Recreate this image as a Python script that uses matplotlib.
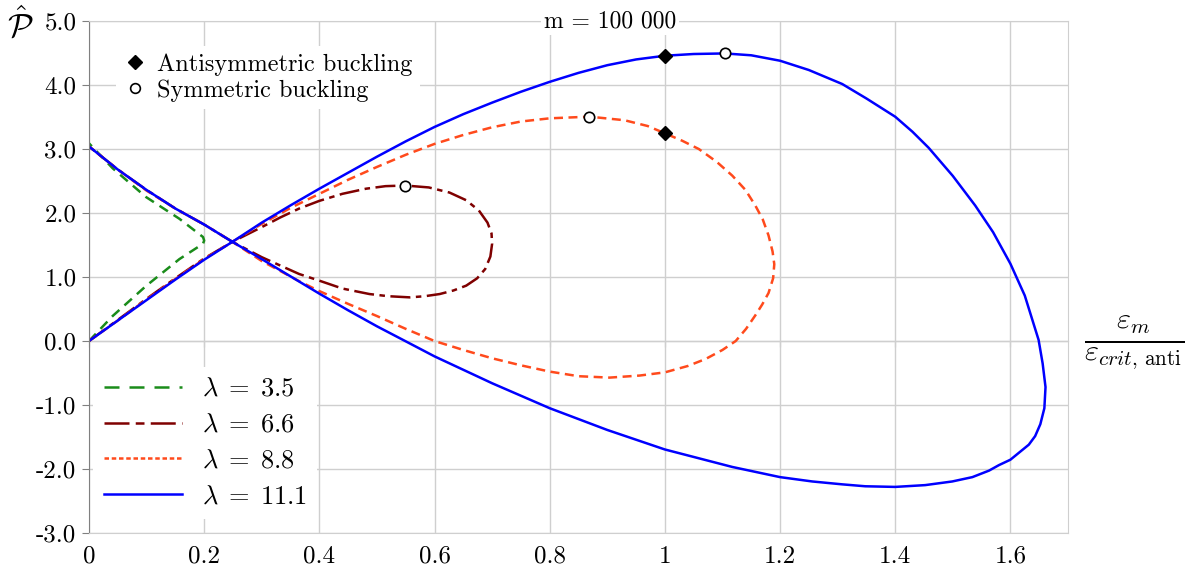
import matplotlib
matplotlib.use("Agg")
import matplotlib.pyplot as plt
from matplotlib.lines import Line2D

plt.rcParams['font.family'] = ['cmr10', 'DejaVu Serif']
plt.rcParams['mathtext.fontset'] = 'cm'
plt.rcParams['axes.unicode_minus'] = False
plt.rcParams['axes.formatter.use_mathtext'] = True

# curvas: cada una sale de (0,0), da la vuelta y vuelve a (0, ~3.05)
x_35 = [0, 0.041, 0.099, 0.157, 0.198, 0.2, 0.198, 0.157, 0.099, 0.041, 0]
y_35 = [0, 0.39, 0.86, 1.28, 1.52, 1.57, 1.625, 1.91, 2.25, 2.70, 3.09]

x_66 = [0, 0.05, 0.1, 0.15, 0.2, 0.249, 0.3, 0.332, 0.365, 0.4, 0.44, 0.481, 0.515,
        0.549, 0.59, 0.626, 0.655, 0.677, 0.692, 0.699, 0.7, 0.697, 0.688, 0.674,
        0.655, 0.633, 0.609, 0.583, 0.557, 0.52, 0.487, 0.44, 0.4, 0.365, 0.332,
        0.3, 0.249, 0.2, 0.15, 0.1, 0.05, 0]
y_66 = [0, 0.33, 0.66, 0.98, 1.29, 1.55, 1.78, 1.93, 2.07, 2.19, 2.30, 2.38, 2.42,
        2.43, 2.40, 2.32, 2.20, 2.04, 1.85, 1.68, 1.52, 1.32, 1.125, 0.98,
        0.865, 0.79, 0.734, 0.70, 0.682, 0.70, 0.734, 0.82, 0.943, 1.047, 1.18,
        1.31, 1.55, 1.82, 2.07, 2.36, 2.68, 3.04]

x_88 = [0, 0.05, 0.1, 0.15, 0.2, 0.249, 0.3, 0.35, 0.4, 0.45, 0.5, 0.55, 0.6, 0.65,
        0.7, 0.75, 0.8, 0.869, 0.93, 0.97, 1.0, 1.03, 1.059, 1.09, 1.117, 1.14,
        1.157, 1.17, 1.18, 1.187, 1.19, 1.188, 1.18, 1.169, 1.157, 1.141, 1.123,
        1.1, 1.071, 1.04, 1.0, 0.956, 0.904, 0.85, 0.8, 0.75, 0.7, 0.65, 0.6,
        0.55, 0.5, 0.45, 0.4, 0.366, 0.3, 0.249, 0.2, 0.15, 0.1, 0.05, 0]
y_88 = [0, 0.32, 0.65, 0.97, 1.28, 1.55, 1.83, 2.08, 2.30, 2.52, 2.72, 2.91, 3.08,
        3.22, 3.34, 3.43, 3.48, 3.506, 3.45, 3.36, 3.246, 3.13, 3.0, 2.80, 2.585,
        2.36, 2.118, 1.9, 1.65, 1.4, 1.2, 0.98, 0.75, 0.57, 0.40, 0.19, 0,
        -0.14, -0.28, -0.39, -0.49, -0.54, -0.572, -0.55, -0.478, -0.38, -0.27,
        -0.14, 0, 0.19, 0.39, 0.58, 0.78, 0.93, 1.25, 1.55, 1.82, 2.07, 2.35,
        2.68, 3.04]

x_111 = [0, 0.05, 0.1, 0.15, 0.2, 0.249, 0.3, 0.35, 0.4, 0.45, 0.5, 0.55, 0.6, 0.65,
         0.7, 0.75, 0.8, 0.85, 0.9, 0.95, 1.0, 1.05, 1.104, 1.15, 1.2, 1.25, 1.308,
         1.35, 1.4, 1.43, 1.458, 1.5, 1.539, 1.57, 1.6, 1.625, 1.649, 1.656, 1.661,
         1.659, 1.652, 1.643, 1.632, 1.6, 1.58, 1.563, 1.534, 1.499, 1.452, 1.4,
         1.348, 1.308, 1.256, 1.2, 1.117, 1.0, 0.9, 0.8, 0.7, 0.6, 0.549, 0.5,
         0.45, 0.4, 0.35, 0.3, 0.249, 0.2, 0.15, 0.1, 0.05, 0]
y_111 = [0, 0.32, 0.64, 0.96, 1.27, 1.55, 1.85, 2.12, 2.38, 2.63, 2.88, 3.12, 3.345,
         3.545, 3.725, 3.895, 4.05, 4.19, 4.31, 4.40, 4.458, 4.485, 4.494, 4.465,
         4.38, 4.235, 4.016, 3.79, 3.505, 3.27, 3.02, 2.58, 2.116, 1.70, 1.208,
         0.71, 0.017, -0.35, -0.72, -1.05, -1.30, -1.486, -1.62, -1.855, -1.94,
         -2.025, -2.127, -2.195, -2.252, -2.28, -2.27, -2.24, -2.195, -2.127,
         -1.968, -1.695, -1.39, -1.05, -0.66, -0.24, 0, 0.23, 0.48, 0.74, 1.01,
         1.28, 1.55, 1.82, 2.07, 2.36, 2.68, 3.04]

# puntos de pandeo
anti_x = [1.0, 1.0]
anti_y = [4.458, 3.246]
sym_x = [1.104, 0.869, 0.549]
sym_y = [4.494, 3.506, 2.43]

lambdas = ["3.5", "6.6", "8.8", "11.1"]
colores = ["#1a8c1a", "#7f0000", "#ff4a1c", "#0000ff"]

xticks = [0, 0.2, 0.4, 0.6, 0.8, 1.0, 1.2, 1.4, 1.6]
xtick_labels = ["0", "0.2", "0.4", "0.6", "0.8", "1", "1.2", "1.4", "1.6"]
yticks = [5, 4, 3, 2, 1, 0, -1, -2, -3]
ytick_labels = ["5.0", "4.0", "3.0", "2.0", "1.0", "0.0", "-1.0", "-2.0", "-3.0"]

fig = plt.figure(figsize=(11.93, 5.69), dpi=100)
ax = fig.add_axes([0.0746, 0.0633, 0.8206, 0.8997])

gris = "#cfcfcf"
ax.set_xlim(0, 1.7)
ax.set_ylim(-3, 5)
ax.set_xticks(xticks)
ax.set_xticklabels(xtick_labels)
ax.set_yticks(yticks)
ax.set_yticklabels(ytick_labels)
ax.grid(True, color=gris, lw=1)
ax.set_axisbelow(True)
for s in ["top", "right", "bottom"]:
    ax.spines[s].set_color(gris)
ax.spines["left"].set_color("#808080")
ax.tick_params(axis="x", length=0, pad=9, labelsize=18)
ax.tick_params(axis="y", length=5, color="#808080", pad=4, labelsize=18)

# eje horizontal en y = 0
sec = ax.secondary_xaxis(3 / 8)
sec.set_xticks(xticks)
sec.tick_params(labelbottom=False, length=4, color="#808080")
sec.spines["bottom"].set_color("#808080")

lw = 1.8
ax.plot(x_35, y_35, color=colores[0], lw=lw, dashes=(4, 2.7))
ax.plot(x_66, y_66, color=colores[1], lw=lw, dashes=(8, 2.2, 2.2, 2.2))
ax.plot(x_88, y_88, color=colores[2], lw=lw, dashes=(3.6, 2.2))
ax.plot(x_111, y_111, color=colores[3], lw=lw)

ax.plot(anti_x, anti_y, "D", color="black", ms=7.5, zorder=5)
ax.plot(sym_x, sym_y, "o", mfc="white", mec="black", mew=1.2, ms=7.5, zorder=5)

ax.text(0.905, 5.0, "m = 100 000", ha="center", va="center", fontsize=17,
        bbox=dict(facecolor="white", edgecolor="none", pad=2))

h1 = [Line2D([], [], ls="none", marker="D", color="black", ms=7),
      Line2D([], [], ls="none", marker="o", mfc="white", mec="black", mew=1.2, ms=7)]
leg1 = ax.legend(h1, ["Antisymmetric buckling", "Symmetric buckling"],
                 loc="upper left", bbox_to_anchor=(0.015, 0.975), frameon=True,
                 fontsize=17.5, handlelength=1.0, handletextpad=0.4,
                 labelspacing=0.15, borderpad=0.3)
leg1.get_frame().set_edgecolor("none")
leg1.get_frame().set_alpha(1)
ax.add_artist(leg1)

h2 = [Line2D([], [], color=colores[0], lw=lw, dashes=(6, 4)),
      Line2D([], [], color=colores[1], lw=lw, dashes=(10, 2.5, 3.5, 2.5)),
      Line2D([], [], color=colores[2], lw=lw, dashes=(1.8, 1.1)),
      Line2D([], [], color=colores[3], lw=lw)]
labels2 = [r"$\lambda\;=\;" + v + "$" for v in lambdas]
leg2 = ax.legend(h2, labels2, loc="upper left", bbox_to_anchor=(0.0045, 0.325),
                 borderaxespad=0, frameon=True, fontsize=19, handlelength=2.95,
                 handletextpad=0.75, labelspacing=0.46, borderpad=0.4)
leg2.get_frame().set_edgecolor("none")
leg2.get_frame().set_alpha(1)

fig.text(0.017, 0.958, r"$\hat{\mathcal{P}}$", fontsize=24, ha="center", va="center")
fig.text(0.951, 0.399, r"$\frac{\varepsilon_m}{\varepsilon_{crit,\,\mathrm{anti}}}$",
         fontsize=31, ha="center", va="center")

fig.savefig("out.png", dpi=100)
